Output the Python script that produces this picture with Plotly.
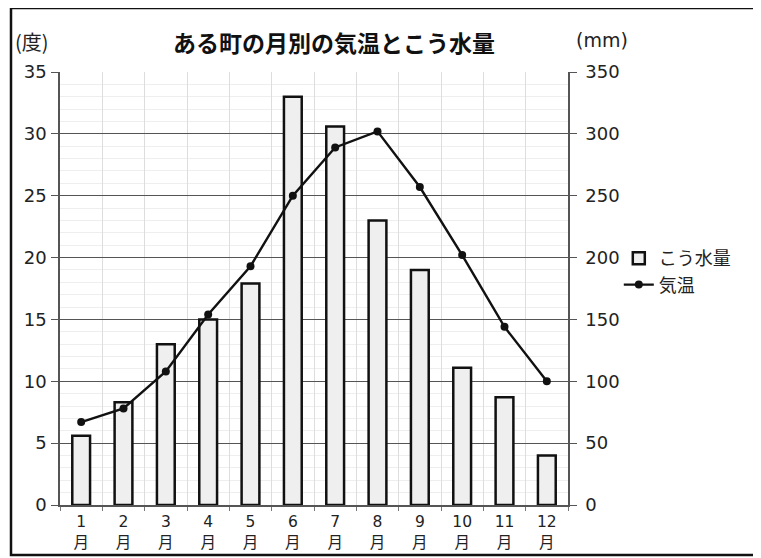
import plotly.graph_objects as go

months = ["1<br>月", "2<br>月", "3<br>月", "4<br>月", "5<br>月", "6<br>月",
          "7<br>月", "8<br>月", "9<br>月", "10<br>月", "11<br>月", "12<br>月"]
precip_mm = [56, 83, 130, 150, 179, 330, 306, 230, 190, 111, 87, 40]
temp_c = [6.7, 7.8, 10.8, 15.4, 19.3, 25.0, 28.9, 30.2, 25.7, 20.2, 14.4, 10.0]
left_ticks = [0, 5, 10, 15, 20, 25, 30, 35]
right_ticks = [0, 50, 100, 150, 200, 250, 300, 350]

NUM = "DejaVu Sans, Noto Sans CJK JP, sans-serif"
CJK = "Noto Sans CJK JP, sans-serif"

# page body has an 8px margin, so the figure is sized to the visible area
W, H = 753, 550
L, T = 52, 64          # plot area left / top in figure coords
PW, PH = 508, 433      # plot area size


def py(y_fig):
    """figure-pixel y -> paper y"""
    return (T + PH - y_fig) / PH


def px(x_fig):
    return (x_fig - L) / PW


fig = go.Figure()
fig.add_trace(go.Bar(
    x=months, y=precip_mm, name="こう水量", yaxis="y",
    width=0.42,
    marker=dict(color="#efefef", line=dict(color="#111111", width=2.5)),
))
fig.add_trace(go.Scatter(
    x=months, y=temp_c, name="気温", mode="lines+markers", yaxis="y2",
    line=dict(color="#111111", width=2.4),
    marker=dict(symbol="circle", size=8, color="#111111"),
))

fig.update_layout(
    width=W, height=H,
    margin=dict(l=L, r=W - L - PW, t=T, b=H - T - PH, autoexpand=False),
    paper_bgcolor="white", plot_bgcolor="white",
    font=dict(family=NUM, size=18, color="#222222"),
    showlegend=True,
    legend=dict(x=1.1, y=0.612, xanchor="left", yanchor="top",
                font=dict(family=CJK, size=18, color="#222222"),
                bgcolor="rgba(0,0,0,0)", traceorder="normal",
                itemwidth=30, tracegroupgap=0),
    xaxis=dict(
        type="category", tickson="boundaries", ticks="outside", ticklen=4,
        tickcolor="#777777", showline=True, linecolor="#555555", linewidth=1.5,
        showgrid=True, gridcolor="#dddddd", gridwidth=1, automargin=False,
        tickfont=dict(family=NUM, size=15.5, color="#222222"),
        ticklabelstandoff=2,
        range=[-0.5, 11.5],
    ),
    # bars: precipitation axis on the right (base axis, drawn below)
    yaxis=dict(
        range=[0, 350], tickvals=right_ticks, side="right", automargin=False,
        ticks="outside", ticklen=7, tickcolor="#555555",
        showline=True, linecolor="#555555", linewidth=1.5,
        showgrid=True, gridcolor="#555555", gridwidth=1.3,
        minor=dict(dtick=10, showgrid=True, gridcolor="#eeeeee", gridwidth=1),
        zeroline=False, ticklabelstandoff=5,
    ),
    # line: temperature axis on the left (overlaying, drawn on top)
    yaxis2=dict(
        range=[0, 35], tickvals=left_ticks, overlaying="y", side="left",
        automargin=False,
        ticks="outside", ticklen=7, tickcolor="#555555",
        showline=True, linecolor="#555555", linewidth=1.5,
        showgrid=False, zeroline=False, ticklabelstandoff=1,
    ),
)

fig.add_annotation(text="ある町の月別の気温とこう水量", xref="paper", yref="paper",
                   x=px(326), y=py(34), xanchor="center", yanchor="middle",
                   showarrow=False,
                   font=dict(family=CJK, size=23, color="#111111", weight="bold"))
fig.add_annotation(text="(度)", xref="paper", yref="paper",
                   x=px(5), y=py(33), xanchor="left", yanchor="middle",
                   showarrow=False,
                   font=dict(family=CJK, size=20, color="#222222"))
fig.add_annotation(text="(mm)", xref="paper", yref="paper",
                   x=px(566), y=py(32), xanchor="left", yanchor="middle",
                   showarrow=False,
                   font=dict(family=NUM, size=19, color="#222222"))

# outer frame of the figure
fig.add_shape(type="rect", xref="paper", yref="paper",
              x0=px(3), x1=px(760), y0=py(547), y1=py(0),
              line=dict(color="#111111", width=2.5), fillcolor="rgba(0,0,0,0)",
              layer="below")

fig.write_html("out.html")
